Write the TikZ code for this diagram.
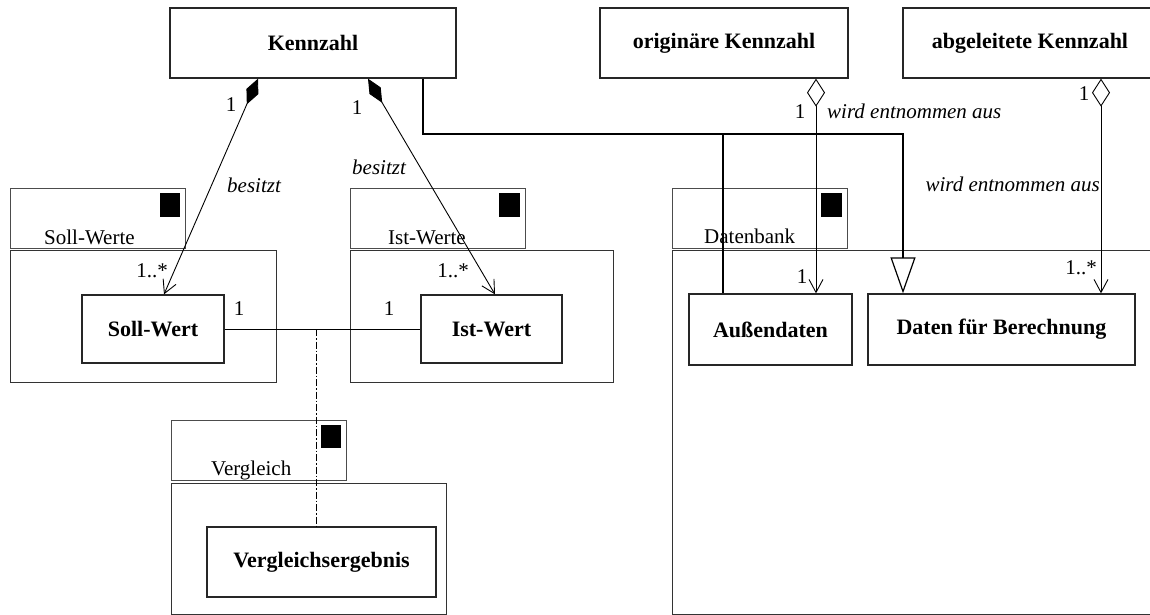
\documentclass[tikz,border=0pt]{standalone}
\usepackage{fontspec}
\setmainfont{Liberation Serif}
\usetikzlibrary{arrows.meta,calc}

\begin{document}
\begin{tikzpicture}[x=1pt,y=-1pt,
  cls/.style={draw=black!85, line width=1.3pt, fill=white, inner sep=0pt,
              font=\fontsize{22}{26}\selectfont\bfseries},
  pkgtab/.style={draw=black!70, line width=0.9pt},
  pkgbody/.style={draw=black!80, line width=1pt},
  pkgmark/.style={fill=black},
  lbl/.style={font=\fontsize{21}{24}\selectfont, inner sep=0pt},
  rolelbl/.style={font=\fontsize{21}{24}\selectfont\itshape, inner sep=0pt},
  conn/.style={line width=0.9pt},
  comp/.style={conn, {Diamond[length=28pt,width=13pt]}-{Straight Barb[length=13pt,width=14pt]}},
  aggr/.style={conn, {Diamond[open,length=28pt,width=18pt]}-{Straight Barb[length=13pt,width=14pt]}},
  gen/.style={line width=1.2pt, -{Triangle[open,length=36pt,width=25pt]}},
  dashdot/.style={line width=0.9pt, dash pattern=on 7pt off 2pt on 1.5pt off 2pt},
]
\clip (0,0) rectangle (1150,615);
\fill[white] (0,0) rectangle (1150,615);

% packages: tab, body and marker square
\draw[pkgtab] (10,188) rectangle (185,248);
\draw[pkgbody] (10,250) rectangle (276,382);
\fill[pkgmark] (160,193) rectangle (180,217);
\node[lbl, anchor=base west] (lSollWerte) at (44,244) {Soll-Werte};

\draw[pkgtab] (350,188) rectangle (525,248);
\draw[pkgbody] (350,250) rectangle (613,382);
\fill[pkgmark] (499,193) rectangle (520,217);
\node[lbl, anchor=base west] (lIstWerte) at (388,244) {Ist-Werte};

\draw[pkgtab] (672,188) rectangle (847,248);
\draw[pkgbody] (672,250) rectangle (1170,614);
\fill[pkgmark] (821,193) rectangle (842,217);
\node[lbl, anchor=base west] (lDatenbank) at (704,243) {Datenbank};

\draw[pkgtab] (171,420) rectangle (346,480);
\draw[pkgbody] (171,483) rectangle (446,614);
\fill[pkgmark] (321,425) rectangle (341,448);
\node[lbl, anchor=base west] (lVergleich) at (211,475) {Vergleich};

% classes
\node[cls, minimum width=286pt, minimum height=70pt] (kz) at (313,43) {Kennzahl};
\node[cls, minimum width=248pt, minimum height=70pt] (ok) at (724,43) {originäre Kennzahl};
\node[cls, minimum width=254pt, minimum height=70pt] (ak) at (1030,43) {abgeleitete Kennzahl};

\coordinate (gbar) at (723,134);

% line from Außendaten into the generalization (runs behind the class box)
\node[cls, minimum width=163pt, minimum height=71pt, draw=none, fill=none] (aussenpos) at (770.5,329.5) {};
\draw[line width=1.2pt] (gbar) -- ([xshift=-47.5pt]aussenpos.south);

\node[cls, minimum width=142pt, minimum height=68pt] (sw) at (153,329) {Soll-Wert};
\node[cls, minimum width=141pt, minimum height=68pt] (iw) at (491.5,329) {Ist-Wert};
\node[cls, minimum width=163pt, minimum height=71pt] (aussen) at (770.5,329.5) {Außendaten};
\node[cls, minimum width=267pt, minimum height=71pt] (dfb) at (1001.5,329.5) {Daten für Berechnung};
\node[cls, minimum width=229pt, minimum height=70pt] (vg) at (321.5,562) {Vergleichsergebnis};

% compositions Kennzahl -> Soll-Wert / Ist-Wert
\draw[comp] ([xshift=-55pt]kz.south) -- ([xshift=11pt]sw.north);
\draw[comp] ([xshift=55pt]kz.south) -- ([xshift=3.5pt]iw.north);

% aggregations into the Datenbank classes
\draw[aggr] ([xshift=92pt]ok.south) -- ([xshift=45.5pt]aussen.north);
\draw[aggr] ([xshift=71pt]ak.south) -- ([xshift=99.5pt]dfb.north);

% generalization to Daten für Berechnung
\draw[gen] ([xshift=110pt]kz.south) |- (gbar) -| ([xshift=-98.5pt]dfb.north);

% association Soll-Wert -- Ist-Wert with the Vergleich link
\draw[conn] (sw.east) -- (iw.west);
\coordinate (assocmid) at ($(sw.east)!0.467!(iw.west)$);
\draw[dashdot] (assocmid) -- (assocmid |- vg.north);

% multiplicities and role names
\node[lbl, anchor=base] (m1) at (231,112) {1};
\node[lbl, anchor=base] (m2) at (357,115) {1};
\node[rolelbl, anchor=base west] (r1) at (227,192) {besitzt};
\node[rolelbl, anchor=base west] (r2) at (352,174) {besitzt};
\node[lbl, anchor=base east] (m3) at (168,277) {1..*};
\node[lbl, anchor=base east] (m4) at (469,277) {1..*};
\node[lbl, anchor=base] (m5) at (239,315) {1};
\node[lbl, anchor=base] (m6) at (389,315) {1};

\node[lbl, anchor=base] (m7) at (800,118) {1};
\node[rolelbl, anchor=base west] (r3) at (827,119) {wird entnommen aus};
\node[lbl, anchor=base] (m8) at (1084,101) {1};
\node[rolelbl, anchor=base east] (r4) at (1100,191) {wird entnommen aus};
\node[lbl, anchor=base] (m9) at (802,283) {1};
\node[lbl, anchor=base east] (m10) at (1097,274) {1..*};
\end{tikzpicture}
\end{document}
